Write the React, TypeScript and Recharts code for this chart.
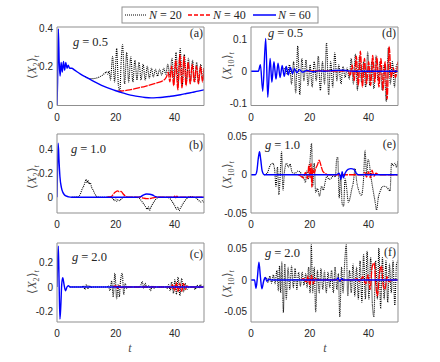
import React from 'react';
import { LineChart, Line, XAxis, YAxis } from 'recharts';

type Pt = [number, number];

const AXIS_GRAY = '#8f8f8f';
const TICK_TEXT = '#262626';
const SANS = "'Liberation Sans', Arial, Helvetica, sans-serif";
const SERIF = "'Liberation Serif', 'Times New Roman', serif";

const tTicks = [0, 20, 40];
const tDomain: [number, number] = [0, 50];

// (a) g = 0.5, <X2>
const aTicks = [0, 0.2, 0.4];
const aDomain: [number, number] = [0, 0.4];
const a60: Pt[] = [
  [0, 0], [0.2, 0.12], [0.45, 0.39], [0.75, 0.22], [1.05, 0.15], [1.4, 0.22], [1.8, 0.17],
  [2.2, 0.225], [2.6, 0.18], [3, 0.22], [3.4, 0.19], [3.8, 0.205], [4.3, 0.19], [5, 0.19],
  [6, 0.18], [8, 0.16], [10, 0.143], [12, 0.127], [14, 0.112], [16, 0.098], [18, 0.086],
  [20, 0.075], [22, 0.066], [24, 0.057], [26, 0.05], [28, 0.045], [30, 0.041], [32, 0.039],
  [34, 0.04], [36, 0.042], [38, 0.046], [40, 0.05], [42, 0.055], [44, 0.061], [46, 0.067],
  [48, 0.073], [50, 0.08],
];
const a40: Pt[] = [
  [20.5, 0.073], [22, 0.074], [24, 0.078], [26, 0.084], [28, 0.091], [30, 0.098], [32, 0.106],
  [34, 0.115], [36, 0.126], [37.2, 0.145], [37.8, 0.17], [38.4, 0.12], [39, 0.2], [39.7, 0.1],
  [40.4, 0.23], [41.1, 0.08], [41.8, 0.26], [42.5, 0.09], [43.2, 0.25], [43.9, 0.1], [44.6, 0.22],
  [45.3, 0.11], [46, 0.21], [46.7, 0.12], [47.4, 0.2], [48.1, 0.11], [48.8, 0.2], [49.5, 0.12],
  [50, 0.19],
];
const a20: Pt[] = [
  [9.5, 0.148], [10.5, 0.14], [11.5, 0.137], [12.5, 0.137], [13.5, 0.14], [14.5, 0.146],
  [15.5, 0.155], [16.3, 0.165], [16.8, 0.172], [17.3, 0.16], [17.7, 0.175], [18.2, 0.13],
  [18.9, 0.25], [19.6, 0.12], [20.3, 0.29], [20.9, 0.1], [21.4, 0.075], [21.8, 0.22], [22.3, 0.31],
  [23, 0.11], [23.7, 0.27], [24.4, 0.12], [25.1, 0.25], [25.8, 0.12], [26.5, 0.23], [27.2, 0.13],
  [27.9, 0.22], [28.6, 0.13], [29.3, 0.21], [30, 0.13], [30.7, 0.2], [31.4, 0.14], [32.1, 0.19],
  [32.8, 0.145], [33.5, 0.185], [34.2, 0.15], [34.9, 0.185], [35.6, 0.155], [36.3, 0.19],
  [37, 0.16], [37.7, 0.21], [38.4, 0.15], [39.1, 0.24], [39.8, 0.13], [40.5, 0.27], [41.2, 0.11],
  [41.9, 0.29], [42.6, 0.1], [43.3, 0.26], [44, 0.12], [44.7, 0.24], [45.4, 0.12], [46.1, 0.23],
  [46.8, 0.12], [47.5, 0.22], [48.2, 0.12], [48.9, 0.21], [49.6, 0.13], [50, 0.19],
];

// (d) g = 0.5, <X10>
const dTicks = [-0.1, 0, 0.1];
const dDomain: [number, number] = [-0.108, 0.139];
const d60: Pt[] = [
  [0, 0], [2.5, 0], [3.2, 0.02], [4, -0.063], [5, 0.103], [5.7, -0.082], [6.5, 0.04],
  [7.1, -0.035], [7.8, 0.03], [8.5, -0.025], [9.2, 0.025], [9.9, -0.02], [10.6, 0.018],
  [11.3, -0.016], [12, 0.015], [12.7, -0.012], [13.4, 0.012], [14.1, -0.008], [14.8, 0.008],
  [15.6, -0.005], [16.5, 0.005], [17.5, -0.003], [19, 0.002], [21, -0.002], [23, 0.001],
  [25, 0], [28, 0.002], [31, 0.003], [33, 0.001], [35, 0], [50, 0],
];
const d40: Pt[] = [
  [19, 0], [25, 0.001], [30, 0], [33, 0.002], [33.7, -0.015], [34.4, 0.02], [35.1, -0.03],
  [35.8, 0.047], [36.5, -0.045], [37.2, 0.063], [37.9, -0.05], [38.6, 0.04], [39.3, -0.04],
  [40, 0.03], [40.7, -0.045], [41.4, 0.05], [42.1, -0.035], [42.8, 0.045], [43.5, -0.05],
  [44.2, 0.04], [44.9, -0.06], [45.6, 0.03], [46.3, -0.088], [47, 0.078], [47.7, -0.02],
  [48.4, 0.01], [49.1, -0.02], [50, 0.03],
];
const d20: Pt[] = [
  [11, 0], [11.7, 0.012], [12.4, -0.01], [13.1, 0.02], [13.8, -0.04], [14.5, 0.03], [15.2, -0.068],
  [15.9, 0.079], [16.6, -0.074], [17.3, 0.04], [18, -0.03], [18.7, 0.035], [19.4, -0.045],
  [20.1, 0.02], [20.8, -0.05], [21.5, 0.03], [22.2, -0.03], [22.9, 0.047], [23.6, -0.06],
  [24.3, 0.03], [25, -0.04], [25.7, 0.089], [26.4, -0.074], [27.1, 0.03], [27.8, -0.05],
  [28.5, 0.058], [29.2, -0.03], [29.9, 0.02], [30.6, -0.04], [31.3, 0.015], [32, -0.02],
  [32.7, 0.01], [33.4, -0.025], [34.1, 0.04], [34.8, -0.04], [35.5, 0.053], [36.2, -0.06],
  [36.9, 0.045], [37.6, -0.035], [38.3, 0.03], [39, -0.05], [39.7, 0.06], [40.4, -0.045],
  [41.1, 0.03], [41.8, -0.055], [42.5, 0.05], [43.2, -0.03], [43.9, 0.03], [44.6, -0.06],
  [45.3, 0.02], [46, -0.095], [46.7, 0.074], [47.4, -0.04], [48.1, 0.03], [48.8, -0.05],
  [49.5, 0.02], [50, 0.01],
];

// (b) g = 1.0, <X2>
const bTicks = [0, 0.2, 0.4];
const bDomain: [number, number] = [-0.132, 0.527];
const b60: Pt[] = [
  [0, 0], [0.2, 0.25], [0.4, 0.45], [0.7, 0.3], [1, 0.17], [1.5, 0.08], [2, 0.04], [2.5, 0.02],
  [3, 0.01], [4, 0.003], [5, 0], [27, 0], [28.5, 0.005], [29.5, 0.02], [30.5, 0.026],
  [31.5, 0.025], [32.5, 0.018], [33.5, 0.005], [35, 0], [50, 0],
];
const b40: Pt[] = [
  [17, 0], [18.5, 0.005], [19.3, 0.03], [20, 0.045], [20.6, 0.053], [21.2, 0.045], [21.8, 0.048],
  [22.4, 0.03], [23.2, 0.01], [24, 0], [28, 0], [29, -0.005], [30.5, -0.012], [32, -0.01],
  [33, -0.003], [34, 0], [39.5, 0], [40, 0.008], [40.4, -0.005], [40.8, 0.008], [41.2, 0],
  [50, 0],
];
const b20: Pt[] = [
  [5, 0], [7, 0.003], [8, 0.03], [8.6, 0.07], [9.2, 0.1], [9.6, 0.13], [9.9, 0.149], [10.2, 0.12],
  [10.5, 0.14], [10.9, 0.11], [11.3, 0.12], [11.8, 0.08], [12.3, 0.06], [12.8, 0.03],
  [13.5, 0.008], [14.5, 0], [18, 0], [19, -0.01], [19.6, -0.03], [20, -0.015], [20.4, -0.035],
  [20.8, -0.02], [21.3, -0.03], [22, -0.01], [23, 0], [27, 0], [28, -0.01], [29, -0.04],
  [30, -0.075], [30.7, -0.1], [31.1, -0.08], [31.5, -0.11], [32, -0.08], [32.7, -0.05],
  [33.5, -0.02], [34.5, -0.003], [36, 0], [38, -0.005], [39, -0.03], [40, -0.07], [40.7, -0.1],
  [41.1, -0.085], [41.5, -0.112], [42, -0.09], [42.7, -0.06], [43.5, -0.03], [44.5, -0.005],
  [45.5, 0.005], [46.5, 0], [47.5, -0.01], [48.3, -0.03], [49, -0.04], [49.5, -0.03],
  [50, -0.045],
];

// (e) g = 1.0, <X10>
const eTicks = [-0.05, 0, 0.05];
const eDomain: [number, number] = [-0.05, 0.0533];
const e60: Pt[] = [
  [0, 0], [1.5, 0], [2, 0.005], [2.5, 0.022], [2.9, 0.03], [3.3, 0.02], [3.8, 0.005], [4.5, 0],
  [29, 0], [30, 0.002], [30.6, -0.006], [31, 0.004], [31.4, -0.004], [32, 0.002], [33, 0.007],
  [34, 0.008], [35, 0.007], [35.8, 0.002], [36.5, 0], [50, 0],
];
const e40: Pt[] = [
  [16, 0], [17, -0.002], [17.8, -0.004], [18.5, 0.003], [19.2, -0.005], [19.7, 0.013],
  [20.1, -0.004], [20.4, 0.015], [20.7, -0.016], [21, 0.008], [21.5, 0.002], [22, 0.008],
  [22.6, 0.013], [23.2, 0.019], [23.8, 0.012], [24.5, 0.004], [25.2, 0.002], [26, 0], [38, 0],
  [38.7, 0.003], [39.3, -0.003], [40, 0.004], [40.6, -0.004], [41.2, 0.006], [41.8, -0.002],
  [42.5, 0.002], [43.5, 0], [50, 0],
];
const e20: Pt[] = [
  [4.5, 0], [5.5, 0.002], [6.5, 0.012], [7.4, 0.015], [8, 0.008], [8.5, -0.015], [9, 0.01],
  [9.5, -0.026], [10, 0.005], [10.4, 0.03], [10.9, -0.02], [11.4, 0.005], [12.1, 0.015],
  [12.7, 0.01], [13.3, 0.014], [14, 0.003], [15, 0.002], [16, 0.005], [17, 0.002], [18, -0.005],
  [18.5, -0.01], [19, 0.005], [19.5, -0.005], [20, 0.015], [20.6, 0.041], [21, -0.015],
  [21.5, 0.015], [22, -0.023], [22.6, -0.018], [23.3, -0.028], [24, -0.015], [24.6, -0.02],
  [25.2, -0.01], [25.8, -0.002], [26.5, -0.006], [27.4, -0.004], [28.2, 0], [28.7, -0.003],
  [29.1, 0.019], [29.5, 0.023], [30, -0.03], [30.5, 0], [31, -0.038], [31.5, -0.041],
  [32, -0.005], [32.6, -0.02], [33.1, -0.036], [33.7, -0.03], [34.2, -0.02], [34.8, -0.01],
  [35.4, 0.008], [36, -0.01], [36.6, -0.02], [37.6, -0.027], [38.2, -0.01], [38.8, 0.032],
  [39.3, 0], [39.8, 0.02], [40.2, 0.016], [40.7, 0], [41.3, -0.015], [42.2, -0.035],
  [42.7, -0.046], [43.3, -0.03], [43.9, -0.022], [45, -0.015], [46.1, -0.016], [47.3, -0.021],
  [47.8, 0.015], [48.4, 0.012], [49, 0.015], [49.5, 0.01], [50, 0.019],
];

// (c) g = 2.0, <X2>
const cTicks = [-0.2, 0, 0.2];
const cDomain: [number, number] = [-0.283, 0.356];
const c60: Pt[] = [
  [0, 0], [0.2, 0.2], [0.45, 0.33], [0.7, 0.05], [1, -0.26], [1.3, -0.15], [1.6, 0.02],
  [1.95, 0.075], [2.4, 0.02], [2.9, -0.03], [3.4, 0], [3.9, 0.01], [4.5, 0], [50, 0],
];
const c40: Pt[] = [
  [19, 0], [20, 0.008], [20.6, -0.01], [21.2, 0.01], [21.8, -0.005], [22.5, 0], [38, 0],
  [38.7, -0.01], [39.3, 0.02], [40, -0.03], [40.6, 0.035], [41.2, -0.035], [41.8, 0.03],
  [42.4, -0.035], [43, 0.03], [43.6, -0.02], [44.2, 0.01], [45, 0], [50, 0],
];
const c20: Pt[] = [
  [4.5, 0], [8.5, 0], [9, 0.01], [9.5, -0.02], [10, 0.02], [10.5, -0.015], [11, 0.012],
  [11.5, -0.005], [12, 0], [17, 0], [17.5, 0.01], [18, -0.03], [18.6, 0.05], [19.1, -0.08],
  [19.7, 0.11], [20.3, -0.095], [20.8, 0.02], [21.2, -0.08], [21.6, 0.05], [22.2, 0.11],
  [22.7, -0.06], [23.2, 0.03], [23.7, -0.01], [24.3, 0], [28, 0], [28.5, 0.015], [29, 0.045],
  [29.5, -0.01], [30, 0.03], [30.5, 0], [31.3, 0.01], [31.8, -0.03], [32.4, 0.01], [33, -0.01],
  [33.5, 0], [37, 0], [37.5, -0.01], [38, 0.02], [38.5, -0.03], [39, 0.04], [39.6, -0.05],
  [40.1, 0.06], [40.6, -0.06], [41.2, 0.08], [41.8, -0.07], [42.4, 0.07], [43, -0.04],
  [43.6, 0.03], [44.2, -0.02], [44.8, 0], [46.5, 0], [47, -0.02], [47.6, 0.015], [48.2, -0.01],
  [48.8, 0.02], [49.4, 0], [50, 0.01],
];

// (f) g = 2.0, <X10>
const fTicks = [-0.05, 0, 0.05];
const fDomain: [number, number] = [-0.066, 0.058];
const f60: Pt[] = [
  [0, 0], [1.2, 0], [1.7, -0.013], [2.2, 0.005], [2.7, 0.028], [3.2, 0.005], [3.7, -0.014],
  [4.3, -0.002], [4.8, 0.004], [5.4, -0.002], [6, 0.001], [7, 0], [29, 0], [29.6, 0.003],
  [30.2, -0.002], [30.8, 0.002], [31.4, 0], [50, 0],
];
const f40: Pt[] = [
  [17, 0], [18, 0.002], [18.8, -0.004], [19.4, 0.006], [20, -0.008], [20.6, 0.007],
  [21.2, -0.006], [21.8, 0.003], [22.5, 0], [35, 0], [36, 0.002], [37, -0.003], [38, 0.005],
  [39, -0.006], [39.8, 0.008], [40.5, -0.015], [41.2, 0.02], [41.9, 0.027], [42.5, -0.01],
  [43, -0.025], [43.7, 0.01], [44.4, 0.022], [45, -0.01], [45.6, -0.015], [46.2, 0.005],
  [47, -0.003], [48, 0], [50, 0],
];
const f20: Pt[] = [
  [4.5, 0], [5.2, 0.004], [5.8, -0.004], [6.4, 0.006], [7, -0.005], [7.6, 0.008], [8.2, -0.006],
  [8.8, 0.015], [9.3, -0.017], [9.7, 0.022], [10.1, -0.02], [10.5, 0.028], [11, -0.051],
  [11.5, 0.025], [12, -0.03], [12.6, 0.02], [13.2, -0.015], [13.8, 0.022], [14.4, -0.012],
  [15, 0.018], [15.6, -0.015], [16.2, 0.012], [16.8, -0.01], [17.4, 0.012], [18, -0.008],
  [18.6, 0.01], [19.1, -0.012], [19.6, 0.02], [20.1, -0.02], [20.5, 0.055], [21, -0.02],
  [21.5, 0.02], [22, -0.05], [22.6, 0.015], [23.2, -0.02], [23.8, 0.018], [24.4, -0.015],
  [25, 0.014], [25.6, -0.02], [26.2, 0.012], [26.8, -0.012], [27.4, 0.015], [28, -0.02],
  [28.6, 0.02], [29.2, -0.015], [29.7, 0.01], [30.2, -0.058], [30.8, 0.02], [31.3, -0.02],
  [31.9, 0.03], [32.4, 0.055], [32.9, -0.025], [33.5, 0.015], [34.1, -0.02], [34.7, 0.025],
  [35.3, -0.025], [35.9, 0.02], [36.5, -0.03], [37.1, 0.03], [37.7, -0.035], [38.3, 0.04],
  [38.9, -0.03], [39.5, 0.045], [40.1, -0.03], [40.7, 0.035], [41.3, -0.04], [41.8, -0.058],
  [42.4, 0.03], [43, -0.03], [43.5, 0.05], [44.1, -0.045], [44.7, 0.035], [45.3, -0.03],
  [45.9, 0.03], [46.5, -0.035], [47.1, 0.025], [47.7, -0.02], [48.3, 0.03], [48.9, -0.04],
  [49.5, 0.025], [50, 0.03],
];

const toRows = (pts: Pt[]) => pts.map(([t, v]) => ({ t, v }));

interface PanelProps {
  x: number;
  y: number;
  w: number;
  h: number;
  domain: [number, number];
  ticks: number[];
  black: Pt[];
  red: Pt[];
  blue: Pt[];
}

function Panel({ x, y, w, h, domain, ticks, black, red, blue }: PanelProps) {
  const padL = 40;
  const padT = 4;
  const padR = 4;
  const axisH = 24;
  const xCommon = {
    dataKey: 't',
    type: 'number' as const,
    domain: tDomain,
    ticks: tTicks,
    allowDataOverflow: true,
  };
  const yCommon = {
    type: 'number' as const,
    domain,
    ticks,
    allowDataOverflow: true,
  };
  const lineCommon = {
    xAxisId: 'b',
    yAxisId: 'l',
    dataKey: 'v',
    type: 'monotone' as const,
    dot: false,
    activeDot: false,
    isAnimationActive: false,
  };

  return (
    <div style={{ position: 'absolute', left: x - padL, top: y - padT }}>
      <LineChart
        width={w + padL + padR}
        height={h + padT + axisH}
        margin={{ top: padT, right: padR, bottom: 0, left: 0 }}
      >
        <XAxis
          xAxisId="b"
          {...xCommon}
          height={axisH}
          tickSize={0}
          tickMargin={8}
          tickLine={false}
          axisLine={{ stroke: AXIS_GRAY }}
          tick={{ fill: TICK_TEXT, fontSize: 10, fontFamily: SANS }}
        />
        <XAxis
          xAxisId="bi"
          {...xCommon}
          mirror
          tick={false}
          tickSize={3}
          axisLine={false}
          tickLine={{ stroke: AXIS_GRAY }}
        />
        <XAxis
          xAxisId="ti"
          {...xCommon}
          orientation="top"
          mirror
          tick={false}
          tickSize={3}
          axisLine={{ stroke: AXIS_GRAY }}
          tickLine={{ stroke: AXIS_GRAY }}
        />
        <YAxis
          yAxisId="l"
          {...yCommon}
          width={padL}
          tickSize={0}
          tickMargin={4}
          tickLine={false}
          axisLine={{ stroke: AXIS_GRAY }}
          tick={{ fill: TICK_TEXT, fontSize: 10, fontFamily: SANS }}
        />
        <YAxis
          yAxisId="li"
          {...yCommon}
          mirror
          tick={false}
          tickSize={3}
          axisLine={false}
          tickLine={{ stroke: AXIS_GRAY }}
        />
        <YAxis
          yAxisId="ri"
          {...yCommon}
          orientation="right"
          mirror
          tick={false}
          tickSize={3}
          axisLine={{ stroke: AXIS_GRAY }}
          tickLine={{ stroke: AXIS_GRAY }}
        />

        <Line
          {...lineCommon}
          data={toRows(black)}
          stroke="#000000"
          strokeWidth={1.1}
          strokeDasharray="1 1"
        />
        <Line
          {...lineCommon}
          data={toRows(red)}
          stroke="#ff0000"
          strokeWidth={1.3}
          strokeDasharray="7 1"
        />
        <Line
          {...lineCommon}
          data={toRows(blue)}
          stroke="#0000ff"
          strokeWidth={1.4}
        />
      </LineChart>
    </div>
  );
}

function YLabel({ x, y, sub }: { x: number; y: number; sub: string }) {
  return (
    <text
      transform={`translate(${x},${y}) rotate(-90)`}
      textAnchor="middle"
      fontFamily={SERIF}
      fontSize={12}
      fill="#4d4d4d"
    >
      {'\u27E8'}
      <tspan fontStyle="italic">X</tspan>
      <tspan fontSize={8} dy={3}>{sub}</tspan>
      <tspan dy={-3}>{'\u27E9'}</tspan>
      <tspan fontSize={8} fontStyle="italic" dy={3}>t</tspan>
    </text>
  );
}

function GLabel({ x, y, value }: { x: number; y: number; value: string }) {
  return (
    <text x={x} y={y} fontFamily={SERIF} fontSize={12.5} fill="#262626">
      <tspan fontStyle="italic">g</tspan>
      <tspan dx={3}>=</tspan>
      <tspan dx={3}>{value}</tspan>
    </text>
  );
}

function Tag({ x, y, label }: { x: number; y: number; label: string }) {
  return (
    <text x={x} y={y} textAnchor="end" fontFamily={SERIF} fontSize={12} fill="#262626">
      {label}
    </text>
  );
}

function LegendItem({ x, label }: { x: number; label: string }) {
  return (
    <text x={x} y={19} fontFamily={SERIF} fontSize={12} fill="#262626">
      <tspan fontStyle="italic">N</tspan>
      <tspan dx={3}>=</tspan>
      <tspan dx={3}>{label}</tspan>
    </text>
  );
}

const colL = { x: 57, w: 147 };
const colR = { x: 251, w: 147 };
const row1 = { y: 26.5, h: 78.5 };
const row2 = { y: 133.5, h: 79 };
const row3 = { y: 243, h: 79 };

export default function App() {
  return (
    <div
      style={{
        position: 'absolute',
        left: 0,
        top: 0,
        width: 440,
        height: 362,
        background: '#ffffff',
        overflow: 'hidden',
      }}
    >
      <Panel {...colL} {...row1} domain={aDomain} ticks={aTicks} black={a20} red={a40} blue={a60} />
      <Panel {...colR} {...row1} domain={dDomain} ticks={dTicks} black={d20} red={d40} blue={d60} />
      <Panel {...colL} {...row2} domain={bDomain} ticks={bTicks} black={b20} red={b40} blue={b60} />
      <Panel {...colR} {...row2} domain={eDomain} ticks={eTicks} black={e20} red={e40} blue={e60} />
      <Panel {...colL} {...row3} domain={cDomain} ticks={cTicks} black={c20} red={c40} blue={c60} />
      <Panel {...colR} {...row3} domain={fDomain} ticks={fTicks} black={f20} red={f40} blue={f60} />

      <svg
        width={440}
        height={362}
        style={{ position: 'absolute', left: 0, top: 0, pointerEvents: 'none' }}
      >
        {/* legend */}
        <rect x={122} y={7} width={196} height={16} fill="#ffffff" stroke={AXIS_GRAY} strokeWidth={1} />
        <line x1={125} y1={15} x2={147} y2={15} stroke="#000" strokeWidth={1} strokeDasharray="1 1" />
        <LegendItem x={149} label="20" />
        <line x1={188} y1={15} x2={211} y2={15} stroke="#ff0000" strokeWidth={1.3} strokeDasharray="4 2" />
        <LegendItem x={213} label="40" />
        <line x1={253} y1={15} x2={276} y2={15} stroke="#0000ff" strokeWidth={1.5} />
        <LegendItem x={278} label="60" />

        <YLabel x={36} y={67} sub="2" />
        <YLabel x={231} y={66} sub="10" />
        <YLabel x={36} y={177} sub="2" />
        <YLabel x={231} y={175} sub="10" />
        <YLabel x={36} y={282} sub="2" />
        <YLabel x={231} y={284} sub="10" />

        <GLabel x={73} y={46} value="0.5" />
        <GLabel x={268} y={37} value="0.5" />
        <GLabel x={71} y={153} value="1.0" />
        <GLabel x={265} y={149} value="1.0" />
        <GLabel x={72} y={261} value="2.0" />
        <GLabel x={265} y={257} value="2.0" />

        <Tag x={203} y={37} label="(a)" />
        <Tag x={396} y={37} label="(d)" />
        <Tag x={203} y={149} label="(b)" />
        <Tag x={396} y={148} label="(e)" />
        <Tag x={203} y={258} label="(c)" />
        <Tag x={396} y={256} label="(f)" />

        <text x={130} y={352} textAnchor="middle" fontFamily={SERIF} fontSize={12} fontStyle="italic" fill="#4d4d4d">
          t
        </text>
        <text x={325} y={352} textAnchor="middle" fontFamily={SERIF} fontSize={12} fontStyle="italic" fill="#4d4d4d">
          t
        </text>
      </svg>
    </div>
  );
}
